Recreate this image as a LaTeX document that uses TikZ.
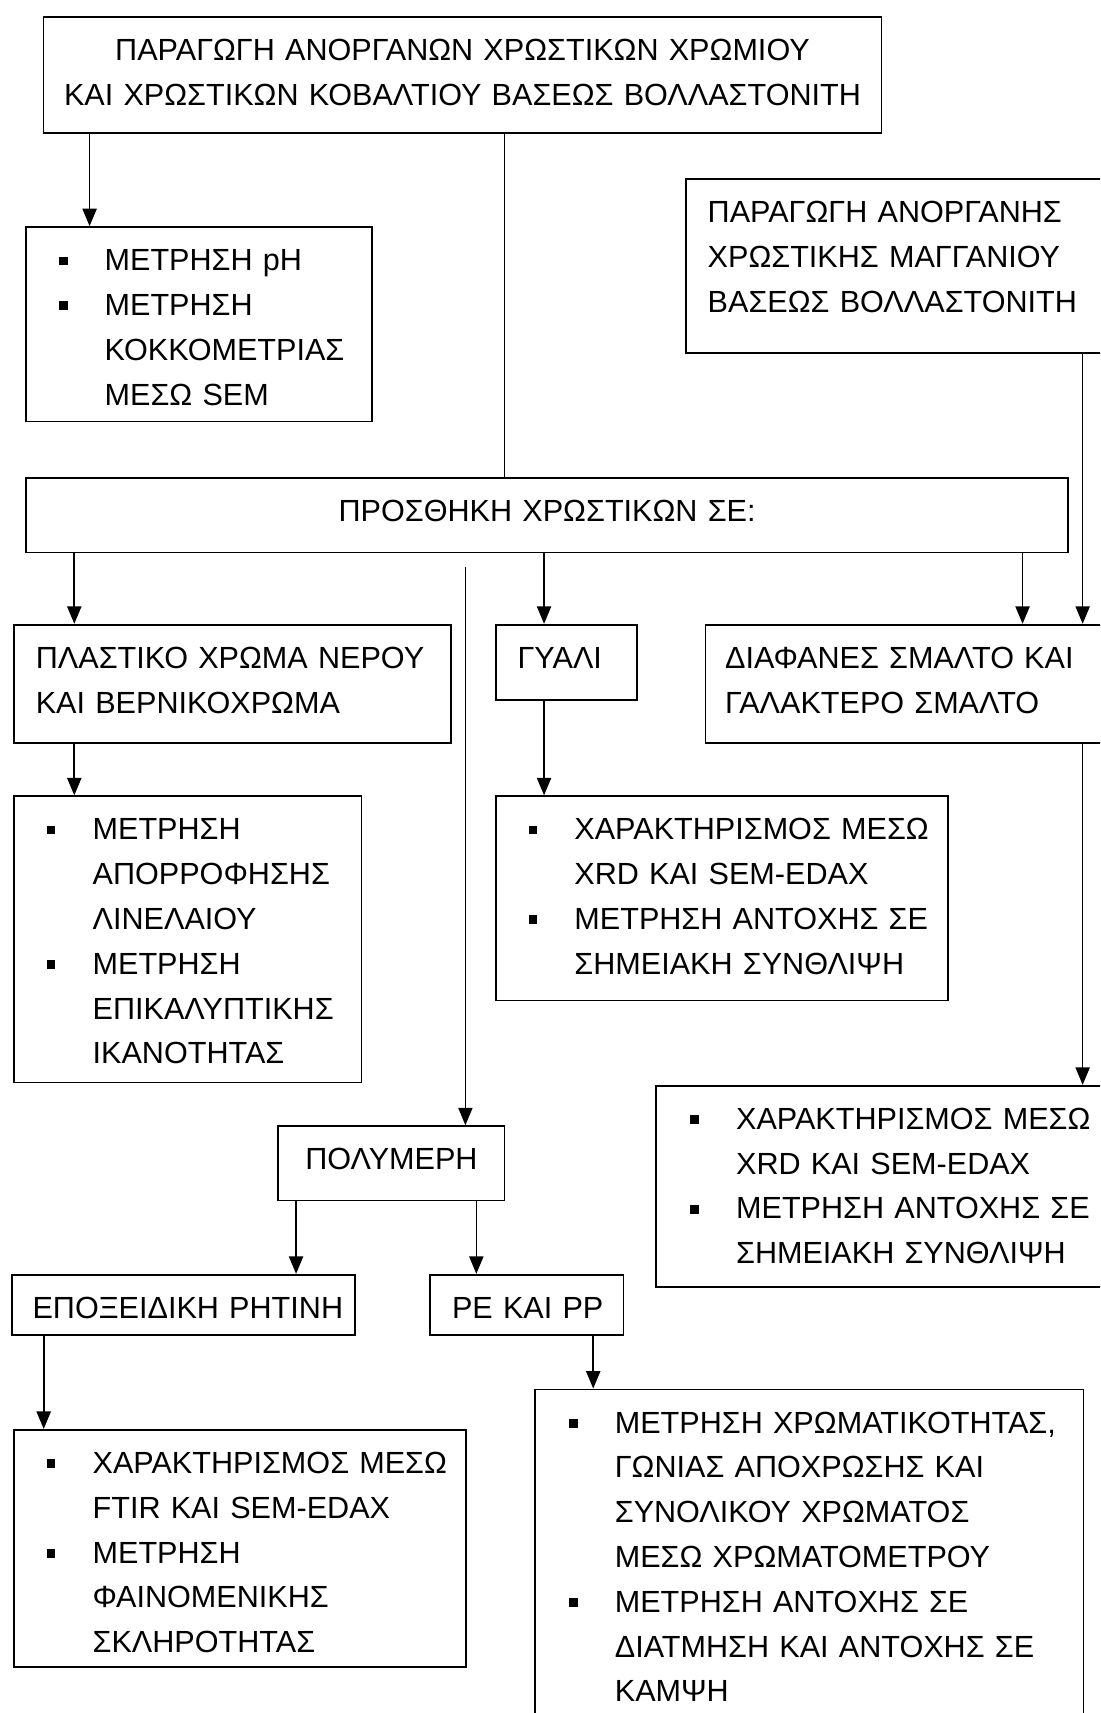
\documentclass[tikz,border=0pt]{standalone}
\usepackage{fontspec}
\setmainfont{Liberation Sans}
\usetikzlibrary{arrows.meta}
\newcommand\blt[1]{\makebox[42pt][l]{\rule[5pt]{8pt}{8pt}}#1}
\newcommand\cnt[1]{\hspace*{42pt}#1}
\tikzset{
  every picture/.style={font=\fontsize{28}{41}\selectfont, line width=1.6pt},
  box/.style 2 args={draw, anchor=north west, inner sep=0pt, text width=#1pt, text height=40pt, text depth=#2pt},
  pad/.style={align=left, execute at begin node={\leftskip=#1pt\relax}},
  arrow/.style={-{Triangle[width=13pt, length=16pt]}, line width=1.5pt},
  link/.style={line width=1.1pt},
}

\begin{document}
\begin{tikzpicture}[x=1pt, y=-1pt]
  \useasboundingbox (0,0) rectangle (1007,1568);
  \clip (0,0) rectangle (1007,1568);

  % pigments and the first measurements
  \node[box={767}{66}, align=center] (prod) at (39,15) {ΠΑΡΑΓΩΓΗ ΑΝΟΡΓΑΝΩΝ ΧΡΩΣΤΙΚΩΝ ΧΡΩΜΙΟΥ\\ ΚΑΙ ΧΡΩΣΤΙΚΩΝ ΚΟΒΑΛΤΙΟΥ ΒΑΣΕΩΣ ΒΟΛΛΑΣΤΟΝΙΤΗ};
  \node[box={317}{138}, pad=30] (ph) at (23,207) {\blt{ΜΕΤΡΗΣΗ pH}\\ \blt{ΜΕΤΡΗΣΗ}\\ \cnt{ΚΟΚΚΟΜΕΤΡΙΑΣ}\\ \cnt{ΜΕΣΩ SEM}};
  \node[box={420}{119}, pad=20] (mn) at (627,163) {ΠΑΡΑΓΩΓΗ ΑΝΟΡΓΑΝΗΣ\\ ΧΡΩΣΤΙΚΗΣ ΜΑΓΓΑΝΙΟΥ\\ ΒΑΣΕΩΣ ΒΟΛΛΑΣΤΟΝΙΤΗ};
  \node[box={954}{28}, align=center] (add) at (23,437) {ΠΡΟΣΘΗΚΗ ΧΡΩΣΤΙΚΩΝ ΣΕ:};

  % the four materials
  \node[box={400}{68}, pad=20] (paint) at (12,571) {ΠΛΑΣΤΙΚΟ ΧΡΩΜΑ ΝΕΡΟΥ\\ ΚΑΙ ΒΕΡΝΙΚΟΧΡΩΜΑ};
  \node[box={129}{29}, pad=20] (glass) at (453,571) {ΓΥΑΛΙ};
  \node[box={400}{68}, pad=18] (enamel) at (645,571) {ΔΙΑΦΑΝΕΣ ΣΜΑΛΤΟ ΚΑΙ\\ ΓΑΛΑΚΤΕΡΟ ΣΜΑΛΤΟ};
  \node[box={207}{28}, align=center] (poly) at (254,1030) {ΠΟΛΥΜΕΡΗ};
  \node[box={314}{15}, pad=19] (epoxy) at (10,1166) {ΕΠΟΞΕΙΔΙΚΗ ΡΗΤΙΝΗ};
  \node[box={177}{15}, pad=20] (pe) at (393,1166) {PE ΚΑΙ PP};

  % measurements on each material
  \node[box={318}{222}, pad=30] (paintm) at (12,728) {\blt{ΜΕΤΡΗΣΗ}\\ \cnt{ΑΠΟΡΡΟΦΗΣΗΣ}\\ \cnt{ΛΙΝΕΛΑΙΟΥ}\\ \blt{ΜΕΤΡΗΣΗ}\\ \cnt{ΕΠΙΚΑΛΥΠΤΙΚΗΣ}\\ \cnt{ΙΚΑΝΟΤΗΤΑΣ}};
  \node[box={414}{147}, pad=30] (glassm) at (453,728) {\blt{ΧΑΡΑΚΤΗΡΙΣΜΟΣ ΜΕΣΩ}\\ \cnt{XRD ΚΑΙ SEM-EDAX}\\ \blt{ΜΕΤΡΗΣΗ ΑΝΤΟΧΗΣ ΣΕ}\\ \cnt{ΣΗΜΕΙΑΚΗ ΣΥΝΘΛΙΨΗ}};
  \node[box={450}{144}, pad=31] (enamelm) at (600,993) {\blt{ΧΑΡΑΚΤΗΡΙΣΜΟΣ ΜΕΣΩ}\\ \cnt{XRD ΚΑΙ SEM-EDAX}\\ \blt{ΜΕΤΡΗΣΗ ΑΝΤΟΧΗΣ ΣΕ}\\ \cnt{ΣΗΜΕΙΑΚΗ ΣΥΝΘΛΙΨΗ}};
  \node[box={414}{177}, pad=30] (epoxym) at (12,1308) {\blt{ΧΑΡΑΚΤΗΡΙΣΜΟΣ ΜΕΣΩ}\\ \cnt{FTIR ΚΑΙ SEM-EDAX}\\ \blt{ΜΕΤΡΗΣΗ}\\ \cnt{ΦΑΙΝΟΜΕΝΙΚΗΣ}\\ \cnt{ΣΚΛΗΡΟΤΗΤΑΣ}};
  \node[box={502}{300}, pad=31] (pem) at (489,1271) {\blt{ΜΕΤΡΗΣΗ ΧΡΩΜΑΤΙΚΟΤΗΤΑΣ,}\\ \cnt{ΓΩΝΙΑΣ ΑΠΟΧΡΩΣΗΣ ΚΑΙ}\\ \cnt{ΣΥΝΟΛΙΚΟΥ ΧΡΩΜΑΤΟΣ}\\ \cnt{ΜΕΣΩ ΧΡΩΜΑΤΟΜΕΤΡΟΥ}\\ \blt{ΜΕΤΡΗΣΗ ΑΝΤΟΧΗΣ ΣΕ}\\ \cnt{ΔΙΑΤΜΗΣΗ ΚΑΙ ΑΝΤΟΧΗΣ ΣΕ}\\ \cnt{ΚΑΜΨΗ}};

  % connectors
  \draw[arrow] ([xshift=43pt]prod.south west) coordinate (c1) -- (c1 |- ph.north);
  \draw[link] ([xshift=423pt]prod.south west) coordinate (c2) -- (c2 |- add.north);
  \draw[arrow] ([xshift=364pt]mn.south west) coordinate (c3) -- (c3 |- enamel.north);
  \draw[arrow] ([xshift=45pt]add.south west) coordinate (c4) -- (c4 |- paint.north);
  \draw[arrow] ([xshift=475pt]add.south west) coordinate (c5) -- (c5 |- glass.north);
  \draw[arrow] ([xshift=913pt]add.south west) coordinate (c6) -- (c6 |- enamel.north);
  \coordinate (gap) at (426,519);
  \draw[arrow, line width=1.2pt] (gap) -- (gap |- poly.north);
  \draw[arrow] ([xshift=56pt]paint.south west) coordinate (c7) -- (c7 |- paintm.north);
  \draw[arrow] ([xshift=45pt]glass.south west) coordinate (c8) -- (c8 |- glassm.north);
  \draw[arrow] ([xshift=346pt]enamel.south west) coordinate (c9) -- (c9 |- enamelm.north);
  \draw[arrow] ([xshift=17pt]poly.south west) coordinate (c10) -- (c10 |- epoxy.north);
  \draw[arrow] ([xshift=182pt]poly.south west) coordinate (c11) -- (c11 |- pe.north);
  \draw[arrow] ([xshift=30pt]epoxy.south west) coordinate (c12) -- (c12 |- epoxym.north);
  \draw[arrow] ([xshift=150pt]pe.south west) coordinate (c13) -- (c13 |- pem.north);
\end{tikzpicture}
\end{document}
